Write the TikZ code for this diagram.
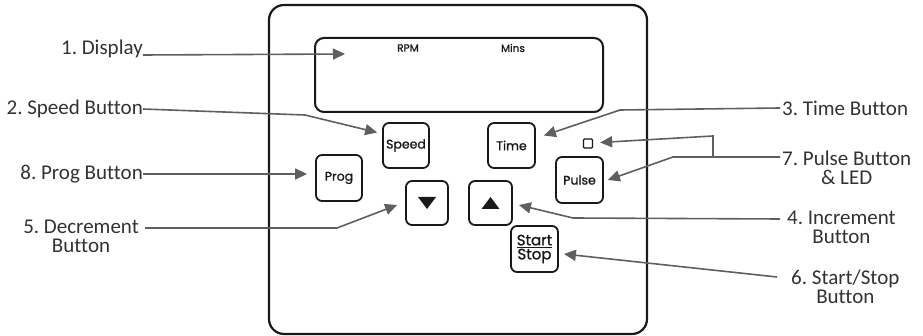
\documentclass[tikz,border=0pt]{standalone}
\usepackage{fontspec}
\setmainfont{Carlito}[Ligatures=NoCommon]
\newfontfamily\panelFont{Poppins}[FakeBold=1.2]
\usetikzlibrary{arrows.meta}
\frenchspacing
\definecolor{lineColor}{RGB}{95,95,95}
\definecolor{labelColor}{RGB}{50,50,50}
\definecolor{panelColor}{RGB}{25,25,25}
\tikzstyle{panelSketch} = [x = 1pt, y = -1pt]
\tikzstyle{panelStyle} = [draw=panelColor, line width=2.2pt, rounded corners=15pt]
\tikzstyle{displayStyle} = [draw=panelColor, line width=2pt, rounded corners=9pt, minimum width=288pt, minimum height=74pt, inner sep=0pt]
\tikzstyle{buttonStyle} = [draw=panelColor, line width=1.8pt, rounded corners=6pt, minimum width=46pt, minimum height=45pt, inner sep=0pt, text=panelColor, font=\panelFont\fontsize{12.5}{13}\selectfont]
\tikzstyle{displayText} = [text=panelColor, inner sep=0pt, font=\panelFont\fontsize{10.5}{11}\selectfont]
\tikzstyle{labelStyle} = [text=labelColor, inner sep=0pt, align=center, font=\fontsize{21}{19}\selectfont]
\tikzstyle{arrowLine} = [draw=lineColor, line width=1.6pt, -{Triangle[length=12pt, width=11pt]}]
\newcommand{\panelButton}[4]{\node [buttonStyle, #4] (#1) at (#2) {#3};}
\newcommand{\downMark}[1]{\fill [panelColor] ([shift={(-9pt,6pt)}]#1.center) -- ([shift={(9pt,6pt)}]#1.center) -- ([yshift=-6pt]#1.center) -- cycle;}
\newcommand{\upMark}[1]{\fill [panelColor] ([shift={(-9pt,-6pt)}]#1.center) -- ([shift={(9pt,-6pt)}]#1.center) -- ([yshift=6pt]#1.center) -- cycle;}
\begin{document}
\begin{tikzpicture}[panelSketch]
  \useasboundingbox (0,0) rectangle (923,336);
  \draw [panelStyle] (269,5) rectangle (647,334);

  \node [displayStyle] (display) at (459,75) {};
  \node [displayText] (rpm) at (408,48) {RPM};
  \node [displayText] (mins) at (513,48) {Mins};

  \panelButton{speed}{406,145.5}{Speed}{}
  \panelButton{time}{511.5,145.5}{Time}{minimum width=47pt}
  \panelButton{prog}{339,178}{Prog}{minimum height=46pt}
  \panelButton{down}{427,203}{}{minimum width=42pt, minimum height=44pt}
  \panelButton{up}{490.5,203}{}{minimum width=43pt, minimum height=44pt}
  \panelButton{pulse}{579.5,180}{Pulse}{minimum width=47pt, minimum height=46pt}
  \panelButton{startStop}{534.5,249}{\underline{Start}\\[-1pt]Stop}{minimum width=47pt, minimum height=46pt, align=center, font=\panelFont\fontsize{15}{15}\selectfont}
  \node [draw=panelColor, line width=1.2pt, minimum size=9pt, inner sep=0pt, rounded corners=1pt] (led) at (588,143.5) {};
  \downMark{down}
  \upMark{up}

  \node [labelStyle, anchor=base east] (displayLabel) at (143,55) {1. Display};
  \node [labelStyle, anchor=east] (speedLabel) at (143,109) {2. Speed Button};
  \node [labelStyle, anchor=east] (progLabel) at (143,174) {8. Prog Button};
  \node [labelStyle, anchor=north east] (decLabel) at (139,220) {5. Decrement\\Button};
  \node [labelStyle, anchor=west] (timeLabel) at (782,108) {3. Time Button};
  \node [labelStyle, anchor=north west] (pulseLabel) at (782,151) {7. Pulse Button\\\& LED};
  \node [labelStyle, anchor=north west] (incLabel) at (787,211) {4. Increment\\Button};
  \node [labelStyle, anchor=north west] (startLabel) at (791,270) {6. Start/Stop\\Button};

  \coordinate (displayTip) at (345,54);
  \coordinate (pulseJoin) at (713,157);

  \draw [arrowLine] (displayLabel.base east) -- (displayTip);
  \draw [arrowLine] (speedLabel.east) -- (305,115) -- ([xshift=-5pt, yshift=13pt]speed.west);
  \draw [arrowLine, shorten >=8pt] (progLabel.east) -- (progLabel.east -| prog.west);
  \draw [arrowLine] ([xshift=6pt, yshift=-8pt]decLabel.north east) -- (337,228) -- ([xshift=-8pt, yshift=-2pt]down.west);
  \draw [arrowLine] ([xshift=-2pt]timeLabel.west) -- (620,110) -- ([xshift=8pt, yshift=10pt]time.east);
  \draw [arrowLine] ([xshift=-2pt, yshift=-6pt]pulseLabel.north west) -- (673,157) -- ([xshift=4pt]pulse.east);
  \draw [arrowLine] (pulseJoin) -- (713,136) -- ([xshift=7pt, yshift=1pt]led.east);
  \draw [arrowLine] ([xshift=-7pt, yshift=-8pt]incLabel.north west) -- (573,218) -- ([xshift=6pt, yshift=-2pt]up.east);
  \draw [arrowLine] ([xshift=-14pt, yshift=-7pt]startLabel.north west) -- ([xshift=5pt, yshift=-5pt]startStop.east);
\end{tikzpicture}
\end{document}
